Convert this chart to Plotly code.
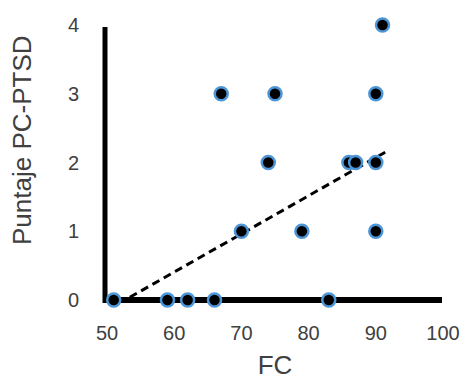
import plotly.graph_objects as go

fc = [51, 59, 62, 66, 83, 70, 79, 90, 74, 86, 87, 90, 67, 75, 90, 91]
puntaje = [0, 0, 0, 0, 0, 1, 1, 1, 2, 2, 2, 2, 3, 3, 3, 4]
trend_x = [53.4, 91.4]
trend_y = [0.04, 2.15]
x_ticks = [50, 60, 70, 80, 90, 100]
y_ticks = [0, 1, 2, 3, 4]

W, H = 471, 385
L, R, T, B = 107, 28, 25, 85
PW, PH = W - L - R, H - T - B

fig = go.Figure()
fig.add_trace(go.Scatter(
    x=trend_x, y=trend_y, mode="lines",
    line=dict(color="black", width=3, dash="8px,5px"),
    hoverinfo="skip", showlegend=False, cliponaxis=False))
fig.add_trace(go.Scatter(
    x=fc, y=puntaje, mode="markers",
    marker=dict(size=13, color="black", line=dict(color="#4C95D6", width=2.5)),
    showlegend=False, cliponaxis=False))

# axis lines (paper refs so they are not clipped)
fig.add_shape(type="line", xref="paper", yref="paper",
              x0=-2 / PW, x1=(PW - 1) / PW, y0=0, y1=0,
              line=dict(color="black", width=6), layer="below")
fig.add_shape(type="line", xref="paper", yref="paper",
              x0=-2 / PW, x1=-2 / PW, y0=-3 / PH, y1=(PH - 2) / PH,
              line=dict(color="black", width=5), layer="below")

font_family = "Liberation Sans, Arial, sans-serif"
fig.update_layout(
    width=W, height=H,
    margin=dict(l=L, r=R, t=T, b=B),
    paper_bgcolor="white", plot_bgcolor="white",
    font=dict(family=font_family, color="#404040"),
    xaxis=dict(range=[50, 100], tickvals=x_ticks, showgrid=False, zeroline=False,
               showline=False, ticks="", tickfont=dict(size=20, color="#404040"),
               ticklabelstandoff=19,
               title=dict(text="FC", font=dict(size=26, color="#404040"), standoff=12)),
    yaxis=dict(range=[0, 4], tickvals=y_ticks, showgrid=False, zeroline=False,
               showline=False, ticks="", tickfont=dict(size=20, color="#404040"),
               ticklabelstandoff=27),
    annotations=[dict(text="Puntaje PC-PTSD", textangle=-90, xref="paper", yref="paper",
                      x=(22 - L) / PW, y=(H - 140 - B) / PH, xanchor="center", yanchor="middle",
                      showarrow=False, font=dict(size=26, color="#404040"))],
)

fig.write_html("out.html", config={"displayModeBar": False},
               post_script="document.body.style.margin='0';document.body.style.overflow='hidden';")
